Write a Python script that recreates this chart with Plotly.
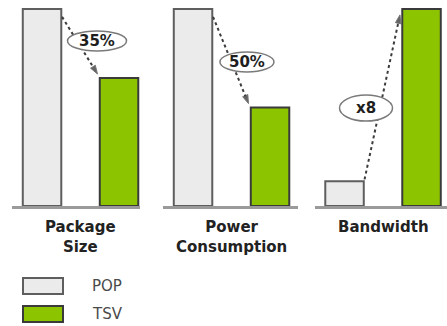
import plotly.graph_objects as go

# Data
categories = ["Package<br>Size", "Power<br>Consumption", "Bandwidth"]
series = ["POP", "TSV"]
pop_values = [100, 100, 12.5]
tsv_values = [65, 50, 100]

W, H = 447, 326
PLOT_TOP, PLOT_BOTTOM = 7, 206          # pixel rows of the plot area
Y_MAX = 101.0
PX_PER_UNIT = 77.0                       # pixel width of one bar slot
X_START = -0.39

# pixel extents of each panel's baseline
panel_px = [(12, 140), (163, 298), (314.5, 447)]

fill = {"POP": "#ebebeb", "TSV": "#8dc400"}
edge = {"POP": "#5e5e5e", "TSV": "#3a3a3a"}

fig = go.Figure()

for i, (pop, tsv) in enumerate(zip(pop_values, tsv_values)):
    ax = "x" if i == 0 else f"x{i+1}"
    for slot, (name, val) in enumerate(zip(series, (pop, tsv))):
        fig.add_trace(go.Bar(
            x=[slot], y=[val], xaxis=ax, yaxis="y", width=0.5, name=name,
            marker=dict(color=fill[name], line=dict(color=edge[name], width=2)),
            showlegend=False, hoverinfo="skip",
        ))
    # dashed arrow from the POP bar top towards the TSV bar top
    y0 = pop + (-4 if tsv < pop else 1)
    y1 = tsv + (2 if tsv < pop else -3)
    fig.add_trace(go.Scatter(
        x=[0.26, 0.72], y=[y0, y1], xaxis=ax, yaxis="y",
        mode="lines+markers",
        line=dict(color="#3c3c3c", width=2, dash="3px,3px"),
        marker=dict(symbol="arrow", size=[0, 9], angleref="previous",
                    color="#222222"),
        showlegend=False, hoverinfo="skip",
    ))

# ellipse labels (center in data units, size in pixels)
ellipse_pos = [(0.714, 83.8, 59, 20), (0.70, 73.1, 54, 20), (0.279, 49.7, 53, 26)]
shapes = []
annotations = []
for i, (pop, tsv) in enumerate(zip(pop_values, tsv_values)):
    ax = "x" if i == 0 else f"x{i+1}"
    cx, cy, ew, eh = ellipse_pos[i]
    if tsv < pop:
        label = f"{round((1 - tsv / pop) * 100)}%"
    else:
        label = f"x{round(tsv / pop)}"
    shapes.append(dict(
        type="circle", xref=ax, yref="y", xsizemode="pixel", ysizemode="pixel",
        xanchor=cx, yanchor=cy, x0=-ew / 2, x1=ew / 2, y0=-eh / 2, y1=eh / 2,
        line=dict(color="#7a7a7a", width=1.5), fillcolor="white", layer="above",
    ))
    annotations.append(dict(
        xref=ax, yref="y", x=cx, y=cy, text=f"<b>{label}</b>", showarrow=False,
        font=dict(family="DejaVu Sans", size=15, color="#1e1e1e"),
    ))
    annotations.append(dict(
        xref=ax, yref="paper", x=0.5, y=0, yanchor="top", yshift=-10,
        text=f"<b>{categories[i]}</b>", showarrow=False,
        font=dict(family="DejaVu Sans", size=15, color="#222222"),
    ))

# legend drawn as swatches with text
plot_h = PLOT_BOTTOM - PLOT_TOP
def py(p):
    return (PLOT_BOTTOM - p) / plot_h

legend_rows = [(278, 294), (306, 322)]
for name, (top, bot) in zip(series, legend_rows):
    shapes.append(dict(
        type="rect", xref="paper", yref="paper",
        x0=23 / W, x1=63 / W, y0=py(bot), y1=py(top),
        line=dict(color=edge[name], width=2), fillcolor=fill[name],
    ))
    annotations.append(dict(
        xref="paper", yref="paper", x=90 / W, y=py((top + bot) / 2),
        xanchor="left", yanchor="middle", text=name, showarrow=False,
        font=dict(family="DejaVu Sans", size=15, color="#4a4a4a"),
    ))

layout_axes = {}
for i, (p0, p1) in enumerate(panel_px):
    key = "xaxis" if i == 0 else f"xaxis{i+1}"
    layout_axes[key] = dict(
        domain=[p0 / W, min(p1 / W, 1.0)],
        range=[X_START, X_START + (p1 - p0) / PX_PER_UNIT],
        showticklabels=False, ticks="", showgrid=False, zeroline=False,
        showline=True, linecolor="#9a9a9a", linewidth=3,
        anchor="y", fixedrange=True,
    )

fig.update_layout(
    width=W, height=H,
    margin=dict(l=0, r=0, t=PLOT_TOP, b=H - PLOT_BOTTOM, pad=0),
    paper_bgcolor="white", plot_bgcolor="white",
    yaxis=dict(range=[0, Y_MAX], visible=False, fixedrange=True),
    shapes=shapes, annotations=annotations,
    showlegend=False,
    **layout_axes,
)

fig.write_html("out.html", config={"displayModeBar": False})
